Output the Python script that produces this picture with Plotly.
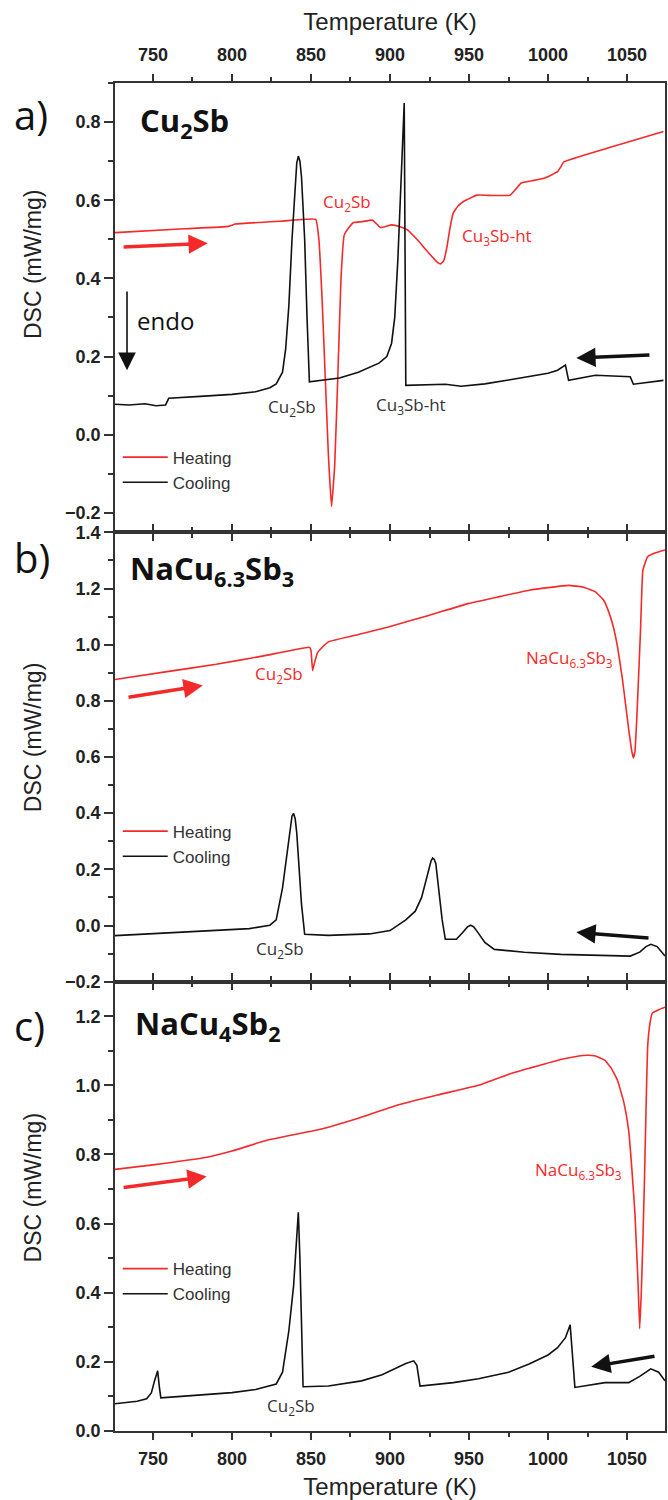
import plotly.graph_objects as go
from plotly.subplots import make_subplots

# ---------------- data ----------------
# Panel a: Cu2Sb
a_heat_T = [726, 770, 798, 802, 830, 853, 855, 857, 859, 861, 863, 865, 867, 869, 871, 874, 877, 882,
            889, 894, 901, 906, 911, 917, 923, 929, 932, 934, 936, 938, 940, 943, 947, 955, 965, 976,
            980, 983, 990, 998, 1006, 1008, 1010, 1040, 1073]
a_heat_Y = [0.517, 0.527, 0.533, 0.539, 0.546, 0.551, 0.50, 0.35, 0.15, -0.05, -0.184, -0.08, 0.15, 0.40,
            0.51, 0.53, 0.543, 0.545, 0.549, 0.530, 0.537, 0.533, 0.524, 0.50, 0.472, 0.445, 0.437, 0.445,
            0.48, 0.53, 0.567, 0.585, 0.598, 0.613, 0.612, 0.613, 0.63, 0.644, 0.650, 0.657, 0.673, 0.685,
            0.698, 0.736, 0.776]
a_cool_T = [726, 735, 745, 752, 758, 760, 780, 800, 815, 824, 828, 832, 834, 836, 838, 840, 841, 842, 843,
            844, 846, 847.5, 849, 868, 880, 893, 898, 901, 903, 905, 907, 909, 910, 920, 935, 945, 960, 975,
            988, 1000, 1006, 1011, 1013, 1030, 1052, 1054, 1073]
a_cool_Y = [0.078, 0.076, 0.079, 0.074, 0.076, 0.093, 0.098, 0.103, 0.11, 0.12, 0.13, 0.16, 0.22, 0.33,
            0.50, 0.65, 0.695, 0.713, 0.70, 0.66, 0.50, 0.30, 0.135, 0.145, 0.16, 0.183, 0.20, 0.234, 0.30,
            0.45, 0.652, 0.849, 0.126, 0.127, 0.129, 0.124, 0.13, 0.14, 0.149, 0.157, 0.165, 0.178, 0.139,
            0.152, 0.148, 0.129, 0.139]

# Panel b: NaCu6.3Sb3
b_heat_T = [726, 760, 790, 820, 849, 850, 851, 852, 854, 857, 861, 880, 899, 925, 950, 970, 988, 1000,
            1013, 1022, 1030, 1035, 1038, 1041, 1044, 1047, 1049, 1051, 1053, 1054, 1055, 1056, 1057,
            1058.5, 1060, 1063, 1068, 1074]
b_heat_Y = [0.876, 0.905, 0.93, 0.96, 0.991, 0.98, 0.908, 0.93, 0.97, 0.99, 1.01, 1.036, 1.063, 1.105,
            1.147, 1.172, 1.194, 1.203, 1.211, 1.205, 1.188, 1.16, 1.123, 1.07, 0.991, 0.88, 0.79, 0.70,
            0.62, 0.597, 0.62, 0.72, 0.848, 1.05, 1.265, 1.313, 1.327, 1.337]
b_cool_T = [726, 760, 790, 811, 824, 828, 832, 835, 837, 838, 839, 840, 841, 843, 844, 846, 861, 887, 900,
            910, 916, 920, 924, 926, 927, 928, 929, 931, 933, 935, 942, 946, 949, 951, 953, 955, 960, 966,
            985, 1008, 1030, 1052, 1058, 1062, 1065, 1069, 1074]
b_cool_Y = [-0.036, -0.026, -0.018, -0.011, 0.001, 0.02, 0.134, 0.26, 0.36, 0.39, 0.399, 0.38, 0.33, 0.16,
            0.076, -0.031, -0.035, -0.03, -0.018, 0.02, 0.051, 0.10, 0.19, 0.23, 0.24, 0.235, 0.22, 0.12,
            0.02, -0.049, -0.049, -0.025, -0.005, 0.001, -0.005, -0.02, -0.06, -0.085, -0.095, -0.103,
            -0.106, -0.109, -0.095, -0.075, -0.067, -0.075, -0.109]

# Panel c: NaCu4Sb2
c_heat_T = [726, 750, 784, 800, 822, 853, 861, 880, 904, 930, 956, 965, 977, 990, 1008, 1017, 1025, 1030,
            1036, 1040, 1044, 1048, 1051, 1053, 1055, 1057, 1058, 1059, 1060, 1061, 1062, 1063, 1064.5,
            1066, 1070, 1074]
c_heat_Y = [0.757, 0.77, 0.792, 0.81, 0.841, 0.87, 0.879, 0.905, 0.942, 0.972, 1.0, 1.015, 1.035, 1.052,
            1.075, 1.083, 1.087, 1.085, 1.072, 1.05, 1.014, 0.95, 0.87, 0.76, 0.629, 0.42, 0.296, 0.40,
            0.55, 0.725, 0.93, 1.11, 1.18, 1.209, 1.219, 1.226]
c_cool_T = [726, 740, 746, 749, 751, 753, 754, 755, 770, 800, 815, 828, 832, 836, 839, 841, 842, 843, 844,
            845, 861, 882, 895, 904, 910, 915, 917, 919, 940, 956, 975, 988, 1000, 1006, 1011, 1014,
            1015.5, 1017, 1036, 1051, 1058, 1065, 1070, 1074]
c_cool_Y = [0.079, 0.086, 0.093, 0.11, 0.145, 0.174, 0.13, 0.096, 0.101, 0.111, 0.12, 0.136, 0.17, 0.29,
            0.42, 0.56, 0.633, 0.50, 0.339, 0.128, 0.130, 0.145, 0.163, 0.183, 0.195, 0.203, 0.19, 0.13,
            0.14, 0.151, 0.17, 0.194, 0.22, 0.241, 0.27, 0.307, 0.22, 0.126, 0.14, 0.14, 0.158, 0.18,
            0.17, 0.145]

x_range = [726, 1074]
y_ranges = [[-0.25, 0.90], [-0.2, 1.4], [0.0, 1.30]]
series_names = ["Heating", "Cooling"]
panel_letters = ["a)", "b)", "c)"]
panel_titles = ["Cu<sub>2</sub>Sb", "NaCu<sub>6.3</sub>Sb<sub>3</sub>", "NaCu<sub>4</sub>Sb<sub>2</sub>"]

RED = "#f42a2a"
BLACK = "#111111"
AXC = "#333333"
SANS = "Liberation Sans"
OPEN = "Open Sans"

fig = make_subplots(rows=3, cols=1, vertical_spacing=0)

panels = [(a_heat_T, a_heat_Y, a_cool_T, a_cool_Y),
          (b_heat_T, b_heat_Y, b_cool_T, b_cool_Y),
          (c_heat_T, c_heat_Y, c_cool_T, c_cool_Y)]
legend_ids = ["legend", "legend2", "legend3"]
for i, (ht, hy, ct, cy) in enumerate(panels):
    fig.add_trace(go.Scatter(x=ht, y=hy, mode="lines", name=series_names[0],
                             line=dict(color=RED, width=1.6, shape="spline", smoothing=0.3),
                             legend=legend_ids[i]), row=i + 1, col=1)
    fig.add_trace(go.Scatter(x=ct, y=cy, mode="lines", name=series_names[1],
                             line=dict(color=BLACK, width=1.6), legend=legend_ids[i]), row=i + 1, col=1)

tickfont = dict(family=SANS, size=18, color="#222222", weight="bold")
for i in range(3):
    r = i + 1
    fig.update_xaxes(row=r, col=1, range=x_range, tick0=750, dtick=50, ticks="outside", ticklen=7,
                     tickwidth=1.5, tickcolor=AXC, showline=True, linewidth=1.5, linecolor=AXC,
                     mirror="ticks", showgrid=False, zeroline=False,
                     minor=dict(dtick=25, ticks="outside", ticklen=4, tickwidth=1.5, tickcolor=AXC,
                                showgrid=False),
                     tickfont=tickfont, showticklabels=(i != 1))
    fig.update_yaxes(row=r, col=1, range=y_ranges[i], tick0=0, dtick=0.2, tickformat=".1f",
                     ticks="outside", ticklen=9, tickwidth=1.5, tickcolor=AXC, showline=True,
                     linewidth=1.5, linecolor=AXC, mirror=True, showgrid=False, zeroline=False,
                     minor=dict(dtick=0.1, ticks="outside", ticklen=5, tickwidth=1.5, tickcolor=AXC,
                                showgrid=False),
                     tickfont=tickfont)

fig.update_xaxes(row=1, col=1, side="top", ticklabelstandoff=6,
                 title=dict(text="Temperature (K)", font=dict(family=SANS, size=24, color="#222"),
                            standoff=8))
fig.update_xaxes(row=3, col=1, ticklabelstandoff=4,
                 title=dict(text="Temperature (K)", font=dict(family=SANS, size=24, color="#222"),
                            standoff=10))

LBL = 17
ann = []
# panel a annotations
ann += [
    dict(xref="x", yref="y", x=784.7, y=0.49, ax=730.5, ay=0.48, axref="x", ayref="y", text="",
         showarrow=True, arrowhead=2, arrowsize=1.1, arrowwidth=3.5, arrowcolor=RED),
    dict(xref="x", yref="y", x=1017.9, y=0.196, ax=1065.1, ay=0.204, axref="x", ayref="y", text="",
         showarrow=True, arrowhead=2, arrowsize=1.1, arrowwidth=3.5, arrowcolor=BLACK),
    dict(xref="x", yref="y", x=733.6, y=0.165, ax=733.6, ay=0.37, axref="x", ayref="y", text="",
         showarrow=True, arrowhead=2, arrowsize=2.2, arrowwidth=1.6, arrowcolor=BLACK),
    dict(xref="x", yref="y", x=738.7, y=0.293, text="endo", showarrow=False, xanchor="left",
         font=dict(family=OPEN, size=24, color=BLACK)),
    dict(xref="x", yref="y", x=872.9, y=0.593, text="Cu<sub>2</sub>Sb", showarrow=False,
         font=dict(family=OPEN, size=LBL, color=RED)),
    dict(xref="x", yref="y", x=968, y=0.507, text="Cu<sub>3</sub>Sb-ht", showarrow=False,
         font=dict(family=OPEN, size=LBL, color=RED)),
    dict(xref="x", yref="y", x=838, y=0.07, text="Cu<sub>2</sub>Sb", showarrow=False,
         font=dict(family=OPEN, size=LBL, color="#333")),
    dict(xref="x", yref="y", x=913, y=0.075, text="Cu<sub>3</sub>Sb-ht", showarrow=False,
         font=dict(family=OPEN, size=LBL, color="#333")),
]
# panel b
ann += [
    dict(xref="x2", yref="y2", x=781.5, y=0.855, ax=733.6, ay=0.812, axref="x2", ayref="y2", text="",
         showarrow=True, arrowhead=2, arrowsize=1.1, arrowwidth=3.5, arrowcolor=RED),
    dict(xref="x2", yref="y2", x=1017.9, y=-0.024, ax=1064.5, ay=-0.045, axref="x2", ayref="y2", text="",
         showarrow=True, arrowhead=2, arrowsize=1.1, arrowwidth=3.5, arrowcolor=BLACK),
    dict(xref="x2", yref="y2", x=830, y=0.894, text="Cu<sub>2</sub>Sb", showarrow=False,
         font=dict(family=OPEN, size=LBL, color=RED)),
    dict(xref="x2", yref="y2", x=1013.4, y=0.951, text="NaCu<sub>6.3</sub>Sb<sub>3</sub>", showarrow=False,
         font=dict(family=OPEN, size=LBL, color=RED)),
    dict(xref="x2", yref="y2", x=830.7, y=-0.085, text="Cu<sub>2</sub>Sb", showarrow=False,
         font=dict(family=OPEN, size=LBL, color="#333")),
]
# panel c
ann += [
    dict(xref="x3", yref="y3", x=784, y=0.736, ax=730.5, ay=0.704, axref="x3", ayref="y3", text="",
         showarrow=True, arrowhead=2, arrowsize=1.1, arrowwidth=3.5, arrowcolor=RED),
    dict(xref="x3", yref="y3", x=1027.3, y=0.186, ax=1068.3, ay=0.217, axref="x3", ayref="y3", text="",
         showarrow=True, arrowhead=2, arrowsize=1.1, arrowwidth=3.5, arrowcolor=BLACK),
    dict(xref="x3", yref="y3", x=837.6, y=0.072, text="Cu<sub>2</sub>Sb", showarrow=False,
         font=dict(family=OPEN, size=LBL, color="#333")),
    dict(xref="x3", yref="y3", x=1019, y=0.754, text="NaCu<sub>6.3</sub>Sb<sub>3</sub>", showarrow=False,
         font=dict(family=OPEN, size=LBL, color=RED)),
]
# panel titles
title_pos = [("x", "y", 740.5, 0.80), ("x2", "y2", 734.2, 1.265), ("x3", "y3", 737.4, 1.174)]
for (xr, yr, tx, ty), t in zip(title_pos, panel_titles):
    ann.append(dict(xref=xr, yref=yr, x=tx, y=ty, text=t, showarrow=False, xanchor="left",
                    yanchor="middle", font=dict(family=OPEN, size=31, color=BLACK, weight="bold")))
# panel letters and y titles (paper coordinates)
letter_y = [0.977, 0.648, 0.301]
ytitle_y = [0.865, 0.514, 0.180]
for L, ly, ty in zip(panel_letters, letter_y, ytitle_y):
    ann.append(dict(xref="paper", yref="paper", x=-0.187, y=ly, text=L, showarrow=False,
                    xanchor="left", yanchor="middle", font=dict(family=OPEN, size=40, color=BLACK)))
    ann.append(dict(xref="paper", yref="paper", x=-0.149, y=ty, text="DSC (mW/mg)", showarrow=False,
                    textangle=-90, xanchor="center", yanchor="middle",
                    font=dict(family=SANS, size=23, color="#222")))

leg_common = dict(xanchor="left", yanchor="top", bgcolor="rgba(0,0,0,0)", tracegroupgap=0,
                  font=dict(family=SANS, size=17, color="#333"), itemwidth=45)
fig.update_layout(
    width=668, height=1500,
    margin=dict(l=115, r=1, t=83, b=69),
    paper_bgcolor="white", plot_bgcolor="white",
    annotations=ann,
    legend=dict(x=0.005, y=0.7355, **leg_common),
    legend2=dict(x=0.005, y=0.458, **leg_common),
    legend3=dict(x=0.005, y=0.1335, **leg_common),
)

fig.write_html("out.html", config={"displayModeBar": False},
               post_script="document.body.style.margin='0';")
